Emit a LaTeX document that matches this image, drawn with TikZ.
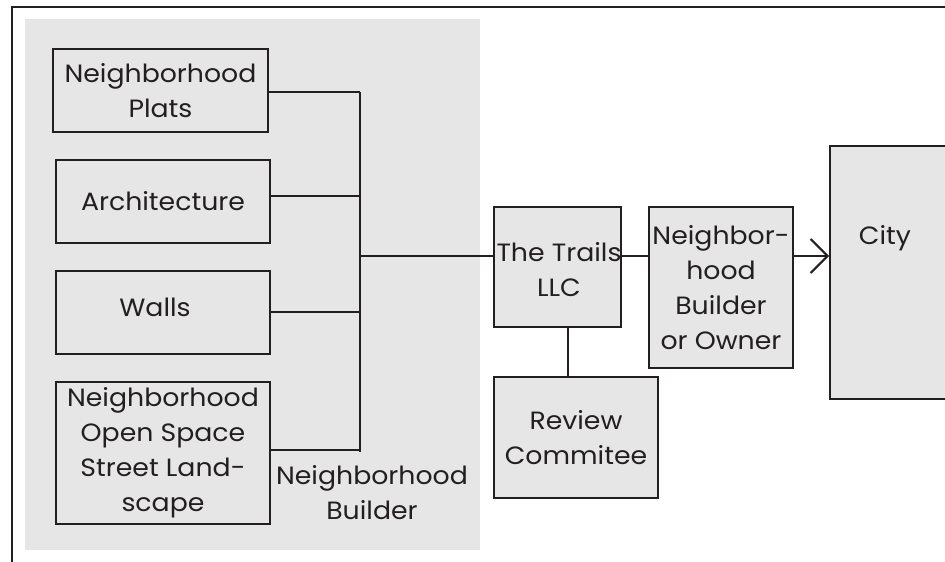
\documentclass[tikz,border=0pt]{standalone}
\usepackage{fontspec}
\setmainfont{Poppins}[FakeStretch=1.07]
\usetikzlibrary{arrows.meta}
\definecolor{ink}{HTML}{231F20}
\definecolor{panel}{HTML}{E6E6E6}
\begin{document}
\begin{tikzpicture}[x=1pt,y=-1pt,
  box/.style={draw=ink, line width=2pt, fill=panel, inner sep=0pt,
    align=center, text=ink, font=\fontsize{25}{35}\selectfont},
  wire/.style={draw=ink, line width=2pt},
  caption/.style={align=center, text=ink, inner sep=0pt,
    font=\fontsize{25}{35}\selectfont}]
\useasboundingbox (0,0) rectangle (945,562);
\fill[white] (0,0) rectangle (945,562);
% outer frame (runs past the right and bottom edges)
\begin{scope}
  \clip (0,0) rectangle (945,562);
  \draw[ink, line width=2.4pt] (12,7) rectangle (1000,620);
\end{scope}
% shaded builder panel
\fill[panel] (25,19) rectangle (480,550);

% builder inputs
\node[box, minimum width=215pt, minimum height=83pt] (plats) at (160.5,90.5) {Neighborhood\\Plats};
\node[box, minimum width=214pt, minimum height=83pt] (arch) at (163,201.5) {Architecture};
\node[box, minimum width=214pt, minimum height=83pt] (walls) at (163,312.5) {};
\node[caption] (wallstext) at (155,307) {Walls};
\node[box, minimum width=214pt, minimum height=142pt] (open) at (163,453) {Neighborhood\\Open Space\\Street Land-\\scape};
\node[caption] (builder) at (372,492.5) {Neighborhood\\Builder};

% approval chain
\node[box, minimum width=127pt, minimum height=120pt] (trails) at (557.5,267) {};
\node[caption] (trailstext) at (559,270) {The Trails\\LLC};
\node[box, minimum width=144pt, minimum height=161pt] (nb) at (721,287.5) {Neighbor-\\hood\\Builder\\or Owner};
\node[box, minimum width=130pt, minimum height=253pt] (city) at (895,272.5) {};
\node[caption] (citytext) at (885,238) {City};
\node[box, minimum width=164pt, minimum height=121pt] (review) at (576,437.5) {Review\\Commitee};

% bus joining the inputs
\coordinate (bustop) at (360,92);
\coordinate (busarch) at (360,196);
\coordinate (buswalls) at (360,312);
\coordinate (busopen) at (360,450);
\coordinate (busend) at (360,452);
\coordinate (hub) at (360,256);
\draw[wire] (plats.east |- bustop) -- (bustop);
\draw[wire] (arch.east |- busarch) -- (busarch);
\draw[wire] (walls.east |- buswalls) -- (buswalls);
\draw[wire] (open.east |- busopen) -- (busopen);
\draw[wire] (bustop) -- (busend);

% main flow
\draw[wire] (hub) -- (trails.west |- hub);
\draw[wire] (trails.east |- hub) -- (nb.west |- hub);
\draw[wire, -{Straight Barb[length=17pt, width=34pt, line width=2pt]}] (nb.east |- hub) -- (city.west |- hub);
\draw[wire] ([xshift=10.5pt]trails.south) -- ([xshift=10.5pt]trails.south |- review.north);
\end{tikzpicture}
\end{document}
